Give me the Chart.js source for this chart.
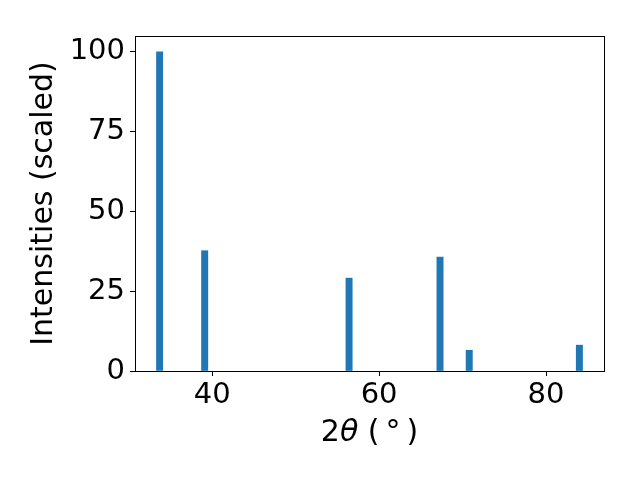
<!DOCTYPE html>
<html>
<head>
<meta charset="utf-8">
<script src="https://cdn.jsdelivr.net/npm/chart.js@4/dist/chart.umd.min.js"></script>
<style>
  html, body { margin: 0; padding: 0; background: #fff; }
  #wrap { width: 640px; height: 480px; }
</style>
</head>
<body>
<div id="wrap"><canvas id="xrdChart" width="640" height="480"></canvas></div>
<script>
// peak positions (2theta, degrees) and scaled intensities
var peaks = [33.7, 39.1, 56.4, 67.3, 70.8, 84.0];
var intensities = [100, 37.7, 29.1, 35.7, 6.5, 8.1];
var xTicks = [40, 60, 80];
var yTicks = [0, 25, 50, 75, 100];

var barColor = '#1f77b4';
var fontFamily = '"DejaVu Sans", sans-serif';

// frame around the plot area (matplotlib style box)
var framePlugin = {
    id: 'frame',
    afterDatasetsDraw: function (chart) {
        var a = chart.chartArea;
        var ctx = chart.ctx;
        ctx.save();
        ctx.strokeStyle = '#000';
        ctx.lineWidth = 1;
        ctx.strokeRect(Math.round(a.left) + 0.5, Math.round(a.top) + 0.5,
            Math.round(a.right - a.left), Math.round(a.bottom - a.top));
        ctx.restore();
    }
};

// x label "2θ ( ° )" with italic theta, drawn as text pieces
var xLabelPlugin = {
    id: 'xLabel',
    afterDraw: function (chart) {
        var ctx = chart.ctx;
        var a = chart.chartArea;
        var parts = [
            { t: '2', f: '30px ' + fontFamily },
            { t: 'θ', f: 'italic 30px ' + fontFamily },
            { t: ' (\u2009', f: '30px ' + fontFamily },
            { t: '°', f: '30px ' + fontFamily },
            { t: '\u2009)', f: '30px ' + fontFamily }
        ];
        ctx.save();
        ctx.fillStyle = '#000';
        ctx.textBaseline = 'alphabetic';
        var total = 0;
        parts.forEach(function (p) { ctx.font = p.f; p.w = ctx.measureText(p.t).width; total += p.w; });
        var x = (a.left + a.right) / 2 - total / 2;
        var y = 441;
        parts.forEach(function (p) {
            ctx.font = p.f;
            ctx.fillText(p.t, x, y);
            x += p.w;
        });
        ctx.restore();
    }
};

var points = peaks.map(function (p, i) { return { x: p, y: intensities[i] }; });

new Chart(document.getElementById('xrdChart').getContext('2d'), {
    type: 'bar',
    data: {
        datasets: [{
            label: 'Intensities',
            data: points,
            backgroundColor: barColor,
            borderWidth: 0,
            barThickness: 6.3
        }]
    },
    options: {
        responsive: false,
        animation: false,
        layout: { padding: { top: 36, right: 36, left: 0, bottom: 0 } },
        plugins: { legend: { display: false }, tooltip: { enabled: false } },
        scales: {
            x: {
                type: 'linear',
                offset: false,
                min: 30.75,
                max: 86.95,
                afterFit: function (scale) { scale.height = 109; },
                afterBuildTicks: function (scale) {
                    scale.ticks = xTicks.map(function (v) { return { value: v }; });
                },
                grid: { display: true, drawOnChartArea: false, offset: false, tickLength: 5, tickColor: '#000' },
                border: { display: false },
                ticks: { color: '#000', padding: 2, font: { family: fontFamily, size: 29 } }
            },
            y: {
                min: 0,
                max: 105,
                afterFit: function (scale) { scale.width = 135; },
                afterBuildTicks: function (scale) {
                    scale.ticks = yTicks.map(function (v) { return { value: v }; });
                },
                grid: { display: true, drawOnChartArea: false, tickLength: 5, tickColor: '#000' },
                border: { display: false },
                ticks: { color: '#000', padding: 5, font: { family: fontFamily, size: 29 } },
                title: {
                    display: true,
                    text: 'Intensities (scaled)',
                    color: '#000',
                    font: { family: fontFamily, size: 30 },
                    padding: { top: 26, bottom: 0 }
                }
            }
        }
    },
    plugins: [framePlugin, xLabelPlugin]
});
</script>
</body>
</html>
